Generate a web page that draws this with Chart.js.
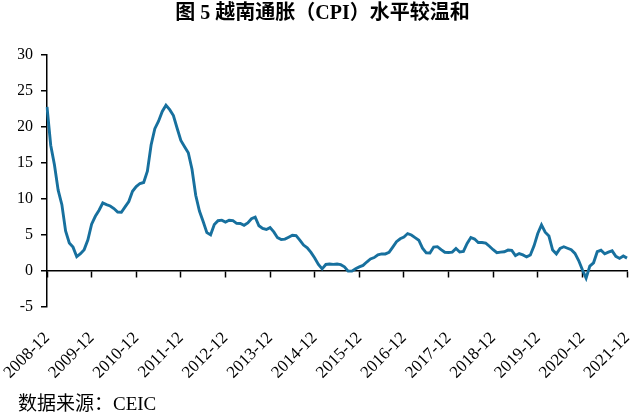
<!DOCTYPE html>
<html>
<head>
<meta charset="utf-8">
<script src="https://cdn.jsdelivr.net/npm/chart.js@4.4.1/dist/chart.umd.min.js"></script>
<style>
  html, body { margin: 0; padding: 0; background: #fff; }
  #wrap { width: 640px; height: 417px; }
</style>
</head>
<body>
<div id="wrap"><canvas id="c" width="640" height="417"></canvas></div>
<script>
// ---- data (Vietnam CPI, YoY %, monthly 2008-12 .. 2021-12) ----
const startYear = 2008, startMonth = 12;
const cpi2008 = [22.8];
const cpi2009 = [17.48, 14.78, 11.25, 9.23, 5.58, 3.91, 3.34, 2.01, 2.42, 2.99, 4.35, 6.52];
const cpi2010 = [7.62, 8.46, 9.46, 9.23, 9.05, 8.69, 8.19, 8.18, 8.92, 9.66, 11.09, 11.75];
const cpi2011 = [12.17, 12.31, 13.89, 17.51, 19.78, 20.82, 22.16, 23.02, 22.42, 21.59, 19.83, 18.13];
const cpi2012 = [17.27, 16.44, 14.15, 10.54, 8.34, 6.9, 5.35, 5.04, 6.48, 7.0, 7.08, 6.81];
const cpi2013 = [7.07, 7.02, 6.64, 6.61, 6.36, 6.69, 7.27, 7.5, 6.3, 5.92, 5.78, 6.04];
const cpi2014 = [5.45, 4.65, 4.39, 4.45, 4.72, 4.98, 4.94, 4.31, 3.62, 3.23, 2.6, 1.84];
const cpi2015 = [0.94, 0.32, 0.93, 1.0, 0.95, 1.0, 0.9, 0.61, 0.0, 0.0, 0.34, 0.6];
const cpi2016 = [0.8, 1.27, 1.69, 1.89, 2.28, 2.4, 2.39, 2.6, 3.34, 4.09, 4.5, 4.74];
const cpi2017 = [5.22, 5.02, 4.65, 4.3, 3.19, 2.54, 2.52, 3.35, 3.4, 2.98, 2.62, 2.6];
const cpi2018 = [2.65, 3.15, 2.66, 2.75, 3.86, 4.67, 4.46, 3.98, 3.98, 3.89, 3.46, 2.98];
const cpi2019 = [2.56, 2.64, 2.7, 2.93, 2.88, 2.16, 2.44, 2.26, 1.98, 2.24, 3.52, 5.23];
const cpi2020 = [6.43, 5.4, 4.87, 2.93, 2.4, 3.17, 3.39, 3.18, 2.98, 2.47, 1.48, 0.19];
const cpi2021 = [-0.97, 0.7, 1.16, 2.7, 2.9, 2.41, 2.64, 2.82, 2.06, 1.77, 2.1, 1.81];

const tickLabels = ['2008-12','2009-12','2010-12','2011-12','2012-12','2013-12','2014-12',
                    '2015-12','2016-12','2017-12','2018-12','2019-12','2020-12','2021-12'];
const yTicks = [-5, 0, 5, 10, 15, 20, 25, 30];

const titleText = '图 5 越南通胀（CPI）水平较温和';
const sourceText = '数据来源：CEIC';

// ---- build ----
const cpi = [].concat(cpi2008, cpi2009, cpi2010, cpi2011, cpi2012, cpi2013, cpi2014,
                      cpi2015, cpi2016, cpi2017, cpi2018, cpi2019, cpi2020, cpi2021);
const months = [];
for (let i = 0; i < cpi.length; i++) {
  const m0 = startMonth - 1 + i;
  const y = startYear + Math.floor(m0 / 12);
  const m = (m0 % 12) + 1;
  months.push(y + '-' + (m < 10 ? '0' + m : m));
}

const serif = "'Liberation Serif', 'Times New Roman', serif";
const cjk = "'Liberation Serif', 'Noto Sans CJK SC', serif";

new Chart(document.getElementById('c'), {
  type: 'line',
  data: {
    labels: months,
    datasets: [{
      data: cpi,
      borderColor: '#17709E',
      borderWidth: 2.9,
      pointRadius: 0,
      tension: 0,
      fill: false,
      xAxisID: 'x',
      yAxisID: 'y'
    }]
  },
  options: {
    responsive: false,
    animation: false,
    devicePixelRatio: 1,
    layout: { padding: { left: 18, right: 13, top: 0, bottom: 0 } },
    plugins: {
      legend: { display: false },
      tooltip: { enabled: false },
      title: {
        display: true,
        text: titleText,
        color: '#000',
        font: { family: cjk, size: 20, weight: 'bold', lineHeight: 1.2 },
        padding: { top: 2, bottom: 29 }
      },
      subtitle: {
        display: true,
        position: 'bottom',
        align: 'start',
        text: sourceText,
        color: '#000',
        font: { family: cjk, size: 19, weight: 'normal', lineHeight: 1.2 },
        padding: { top: 5, bottom: 1 }
      }
    },
    scales: {
      x: {
        type: 'category',
        position: { y: 0 },
        ticks: { display: false },
        grid: {
          display: true,
          drawOnChartArea: false,
          drawTicks: true,
          tickLength: 6,
          tickWidth: 1.5,
          tickColor: (c) => (tickLabels.includes(months[c.index]) ? '#000' : 'rgba(0,0,0,0)')
        },
        border: { display: true, color: '#000', width: 1.5 }
      },
      x2: {
        type: 'category',
        position: 'bottom',
        grid: { display: false, drawTicks: false },
        border: { display: false },
        ticks: {
          autoSkip: false,
          maxRotation: 45,
          minRotation: 45,
          padding: 21,
          color: '#000',
          font: { family: serif, size: 17 },
          callback: function (value) {
            const l = months[value];
            return tickLabels.includes(l) ? l : '';
          }
        },
        afterFit: (s) => { s.height = 81; s.paddingLeft = 0; s.paddingRight = 0; }
      },
      y: {
        min: -5,
        max: 30,
        afterBuildTicks: (s) => { s.ticks = yTicks.map(v => ({ value: v })); },
        ticks: { padding: 8, color: '#000', font: { family: serif, size: 16 } },
        grid: { drawOnChartArea: false, drawTicks: true, tickLength: 6, color: '#000', lineWidth: 1.5 },
        border: { display: true, color: '#000', width: 1.5 },
        afterFit: (s) => { s.width = 29; s.paddingTop = 0; s.paddingBottom = 0; }
      }
    }
  }
});
</script>
</body>
</html>
